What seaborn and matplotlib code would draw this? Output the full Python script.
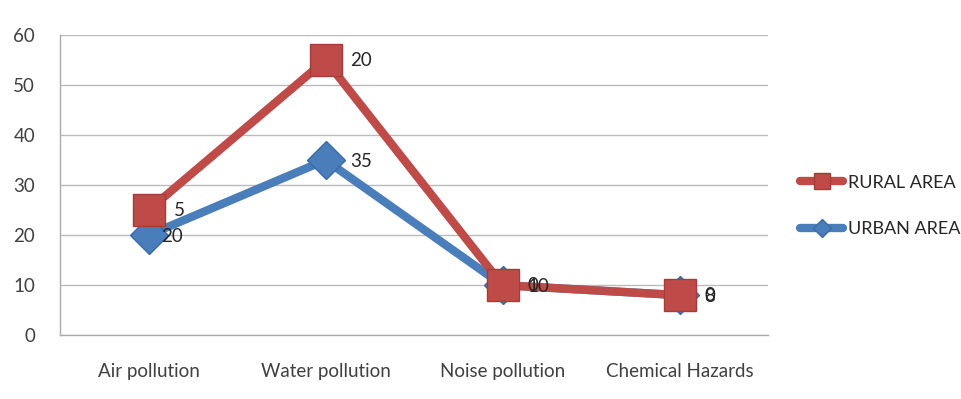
import numpy as np
import pandas as pd
import seaborn as sns
import matplotlib.pyplot as plt

categories = ["Air pollution", "Water pollution", "Noise pollution", "Chemical Hazards"]
urban = [20, 35, 10, 8]
rural = [5, 20, 0, 0]

# stacked line chart: rural sits on top of urban
rural_stacked = list(np.array(urban) + np.array(rural))

sns.set_style("white")
plt.rcParams['font.family'] = ['Lato', 'DejaVu Sans']

fig = plt.figure(figsize=(9.62, 3.99), dpi=100)
ax = fig.add_axes([0.0624, 0.160, 0.736, 0.752])

x = np.arange(len(categories))
df = pd.DataFrame({"x": x, "urban": urban, "rural": rural_stacked})

blue = "#4A7EBB"
red = "#BE4B48"

sns.lineplot(data=df, x="x", y="urban", ax=ax, color=blue, linewidth=6,
             marker="D", markersize=19, markeredgecolor="#3A6AA8",
             markeredgewidth=1, label="URBAN AREA", zorder=3)
sns.lineplot(data=df, x="x", y="rural", ax=ax, color=red, linewidth=6,
             marker="s", markersize=23, markeredgecolor="#A53C39",
             markeredgewidth=1, label="RURAL AREA", zorder=4)

for xi, yv, lab in zip(x, urban, urban):
    dx = 9 if xi == 0 else 18
    ax.annotate(str(lab), (xi, yv), xytext=(dx, -1), textcoords="offset points",
                va="center", ha="left", fontsize=13.5, color="#262626", zorder=5)
for xi, yv, lab in zip(x, rural_stacked, rural):
    ax.annotate(str(lab), (xi, yv), xytext=(18, 0), textcoords="offset points",
                va="center", ha="left", fontsize=13.5, color="#262626", zorder=5)

ax.set_xlim(-0.5, 3.5)
ax.set_ylim(0, 60)
ax.set_yticks(range(0, 61, 10))
ax.set_xticks(x)
ax.set_xticklabels(categories)
ax.set_xlabel("")
ax.set_ylabel("")
ax.tick_params(axis="both", labelsize=13.5, colors="#404040", length=0, pad=20)
ax.tick_params(axis="y", pad=18)
ax.yaxis.grid(True, color="#BBBBBB", linewidth=1)
for s in ["top", "right"]:
    ax.spines[s].set_visible(False)
for s in ["left", "bottom"]:
    ax.spines[s].set_color("#AAAAAA")
    ax.spines[s].set_linewidth(1)

handles, labels = ax.get_legend_handles_labels()
ax.legend(handles[::-1], labels[::-1], loc="center left", bbox_to_anchor=(1.045, 0.43),
          frameon=False, fontsize=13, handlelength=2.4, labelspacing=1.7,
          markerscale=0.5, handletextpad=0.25, borderaxespad=0, borderpad=0)

fig.savefig("out.png", dpi=100)
